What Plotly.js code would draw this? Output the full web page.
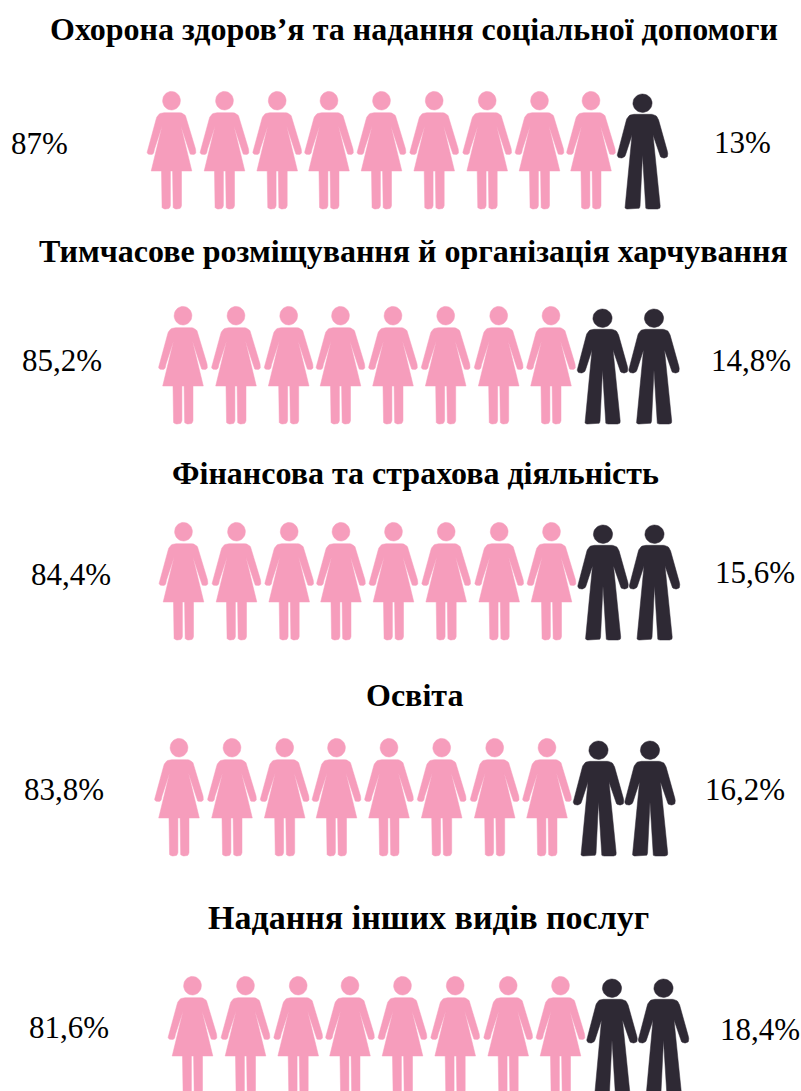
<!DOCTYPE html>
<html><head><meta charset="utf-8">
<script src="https://cdn.plot.ly/plotly-3.0.1.min.js"></script>
<style>html,body{margin:0;padding:0;background:#fff}#c{width:801px;height:1091px}</style>
</head><body><div id="c"></div>
<script>
// Data
const categories = [
  "Охорона здоров’я та надання соціальної допомоги",
  "Тимчасове розміщування й організація харчування",
  "Фінансова та страхова діяльність",
  "Освіта",
  "Надання інших видів послуг"
];
const womenLabels = ["87%", "85,2%", "84,4%", "83,8%", "81,6%"];
const menLabels = ["13%", "14,8%", "15,6%", "16,2%", "18,4%"];
const womenIcons = [9, 8, 8, 8, 8];
const menIcons = [1, 2, 2, 2, 2];

// Layout (pixel-like axis units)
const rowLeft = [171.5, 183, 183.5, 179, 192.5];
const rowTop = [91, 306, 522, 738, 976];
const iconOffsets = [0, 53, 105.7, 157.5, 210, 262.7, 315.7, 368, 419.5, 471];
const titlePos = [[413.5, 28.5], [413.5, 250.5], [415, 472.5], [414, 694.5], [428, 917.5]];
const titleSizes = [32, 32, 32, 32, 34];
const leftPos = [[39.5, 143.5], [61.5, 360.5], [71, 574.5], [63.5, 789.5], [69, 1027.5]];
const rightPos = [[742, 142.5], [751, 360.5], [755, 572.5], [745, 789.5], [760, 1029.5]];

function roundPoly(v) {
  const out = [], n = v.length;
  for (let i = 0; i < n; i++) {
    const p = v[i], a = v[(i + n - 1) % n], b = v[(i + 1) % n], r = p[2] || 0;
    if (!r) { out.push([p[0], p[1]]); continue; }
    const la = Math.hypot(a[0]-p[0], a[1]-p[1]), lb = Math.hypot(b[0]-p[0], b[1]-p[1]);
    const ra = Math.min(r, la/2), rb = Math.min(r, lb/2);
    const s = [p[0]+(a[0]-p[0])*ra/la, p[1]+(a[1]-p[1])*ra/la];
    const e = [p[0]+(b[0]-p[0])*rb/lb, p[1]+(b[1]-p[1])*rb/lb];
    for (let k = 0; k <= 8; k++) {
      const t = k/8, u = 1-t;
      out.push([u*u*s[0]+2*u*t*p[0]+t*t*e[0], u*u*s[1]+2*u*t*p[1]+t*t*e[1]]);
    }
  }
  out.push(out[0]);
  return out;
}
function ellipse(cy, rx, ry) {
  const o = [];
  for (let k = 0; k <= 36; k++) {
    const t = k/36*2*Math.PI;
    o.push([rx*Math.cos(t), cy+ry*Math.sin(t)]);
  }
  return o;
}
function mirrorSide(side) {
  return side.concat(side.slice().reverse().map(p => [-p[0], p[1], p[2]]));
}
const womanShape = [
  ellipse(9.7, 8.9, 9.3),
  roundPoly([
    [-13.5,21.7,6],[-24.6,60,3],[-24,63.5,3.5],[-18,63.5,3.5],[-17.6,60,2],[-9.4,35,0],
    [-20.3,80,0],[-10,80,0],[-10,118,4],[-1.1,118,4],[-1.1,80,0],
    [1.1,80,0],[1.1,118,4],[10,118,4],[10,80,0],[20.3,80,0],
    [9.4,35,0],[17.6,60,2],[18,63.5,3.5],[24,63.5,3.5],[24.6,60,3],[13.5,21.7,6]
  ])
];
const manShape = [
  ellipse(12.2, 9.6, 9.2),
  roundPoly(mirrorSide([
    [-14.5,23.3,6],[-25.6,63,3],[-24.5,67,3.5],[-18,67,3.5],[-10.5,44,0],
    [-18,118,3],[-2.6,118,3],[-0.01,64,0]
  ]))
];
function place(shape, cx, top, xs, ys) {
  shape.forEach(part => {
    part.forEach(p => { xs.push(cx + p[0]); ys.push(top + p[1]); });
    xs.push(null); ys.push(null);
  });
}
const wx = [], wy = [], mx = [], my = [];
categories.forEach((c, r) => {
  for (let i = 0; i < womenIcons[r] + menIcons[r]; i++) {
    const cx = rowLeft[r] + iconOffsets[i];
    if (i < womenIcons[r]) place(womanShape, cx, rowTop[r], wx, wy);
    else place(manShape, cx, rowTop[r], mx, my);
  }
});
const iconTrace = (x, y, color, name) => ({
  x, y, name, type: "scatter", mode: "lines", fill: "toself", fillcolor: color,
  line: {width: 0.5, color}, hoverinfo: "name", showlegend: false, connectgaps: false
});
const font = "'Liberation Serif','Times New Roman',serif";
const annotations = [];
categories.forEach((c, r) => {
  annotations.push({x: titlePos[r][0], y: titlePos[r][1], text: "<b>" + c + "</b>", showarrow: false,
    xref: "x", yref: "y", xanchor: "center", yanchor: "middle", font: {family: font, size: titleSizes[r], color: "#000"}});
  annotations.push({x: leftPos[r][0], y: leftPos[r][1], text: womenLabels[r], showarrow: false,
    xref: "x", yref: "y", xanchor: "center", yanchor: "middle", font: {family: font, size: 31, color: "#000"}});
  annotations.push({x: rightPos[r][0], y: rightPos[r][1], text: menLabels[r], showarrow: false,
    xref: "x", yref: "y", xanchor: "center", yanchor: "middle", font: {family: font, size: 31, color: "#000"}});
});
Plotly.newPlot("c", [iconTrace(wx, wy, "#F69DBC", "Жінки"), iconTrace(mx, my, "#2E2934", "Чоловіки")], {
  width: 801, height: 1091, margin: {l: 0, r: 0, t: 0, b: 0},
  paper_bgcolor: "#fff", plot_bgcolor: "#fff", showlegend: false,
  xaxis: {range: [0, 801], visible: false, fixedrange: true},
  yaxis: {range: [1091, 0], visible: false, fixedrange: true},
  annotations
}, {displayModeBar: false, staticPlot: true});
</script></body></html>
